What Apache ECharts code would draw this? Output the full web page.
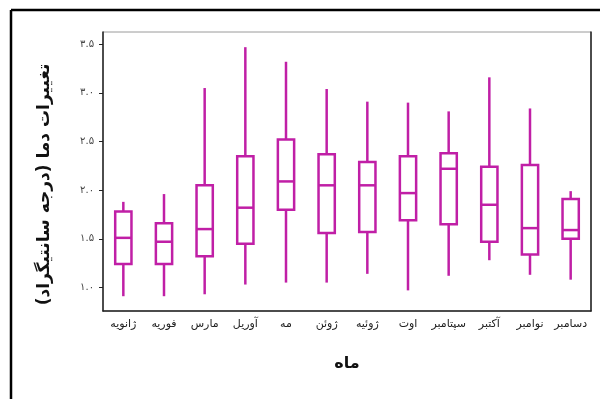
<!DOCTYPE html>
<html>
<head>
<meta charset="utf-8">
<script src="https://cdn.jsdelivr.net/npm/echarts@6/dist/echarts.min.js"></script>
<style>
  html, body { margin: 0; padding: 0; background: #fff; }
  #chart { width: 600px; height: 399px; }
</style>
</head>
<body>
<div id="chart"></div>
<script>
// Monthly temperature change distribution (box and whisker)
const months = ['ژانویه', 'فوریه', 'مارس', 'آوریل', 'مه', 'ژوئن', 'ژوئیه', 'اوت', 'سپتامبر', 'آکتبر', 'نوامبر', 'دسامبر'];
const whiskerLow  = [0.91, 0.91, 0.93, 1.03, 1.05, 1.05, 1.14, 0.97, 1.12, 1.28, 1.13, 1.08];
const boxLow      = [1.24, 1.24, 1.32, 1.45, 1.80, 1.56, 1.57, 1.69, 1.65, 1.47, 1.34, 1.50];
const medians     = [1.51, 1.47, 1.60, 1.82, 2.09, 2.05, 2.05, 1.97, 2.22, 1.85, 1.61, 1.59];
const boxHigh     = [1.78, 1.66, 2.05, 2.35, 2.52, 2.37, 2.29, 2.35, 2.38, 2.24, 2.26, 1.91];
const whiskerHigh = [1.88, 1.96, 3.05, 3.47, 3.32, 3.04, 2.91, 2.90, 2.81, 3.16, 2.84, 1.99];

const yTickValues = [1.0, 1.5, 2.0, 2.5, 3.0, 3.5];
const yTickLabels = ['۱.۰', '۱.۵', '۲.۰', '۲.۵', '۳.۰', '۳.۵'];

const COLOR = '#C01FA6';
const FONT = 'DejaVu Sans';

const seriesData = months.map((m, i) => [i, whiskerLow[i], boxLow[i], medians[i], boxHigh[i], whiskerHigh[i]]);

const chart = echarts.init(document.getElementById('chart'), null, { renderer: 'canvas' });

chart.setOption({
  backgroundColor: '#fff',
  animation: false,
  grid: {
    left: 103, right: 9, top: 32, bottom: 88,
    show: true, borderColor: '#9a9a9a', borderWidth: 1
  },
  graphic: [
    { type: 'line', shape: { x1: 11, y1: 10, x2: 600, y2: 10 }, style: { stroke: '#000', lineWidth: 2.5 } },
    { type: 'line', shape: { x1: 11, y1: 10, x2: 11, y2: 399 }, style: { stroke: '#000', lineWidth: 2.5 } }
  ],
  xAxis: {
    type: 'category',
    data: months,
    boundaryGap: true,
    name: 'ماه',
    nameLocation: 'middle',
    nameGap: 45,
    nameTextStyle: { fontFamily: FONT, fontSize: 16, fontWeight: 'bold', color: '#111' },
    axisLine: { lineStyle: { color: '#222', width: 1.5 } },
    axisTick: { alignWithLabel: true, length: 4, lineStyle: { color: '#222' } },
    axisLabel: { fontFamily: FONT, fontSize: 11, color: '#222', margin: 8, interval: 0 },
    splitLine: { show: false }
  },
  yAxis: [{
    type: 'value',
    min: 0.758,
    max: 3.626,
    name: 'تغییرات دما (درجه سانتیگراد)',
    nameLocation: 'middle',
    nameRotate: 90,
    nameGap: 50,
    nameTextStyle: { fontFamily: FONT, fontSize: 17, fontWeight: 'bold', color: '#111', padding: [0, 26, 0, 0] },
    axisLine: { show: true, lineStyle: { color: '#222', width: 1.5 } },
    axisTick: { show: true, length: 4, customValues: yTickValues, lineStyle: { color: '#222' } },
    axisLabel: {
      customValues: yTickValues,
      fontFamily: FONT, fontSize: 10, color: '#444', margin: 9,
      formatter: v => yTickLabels[yTickValues.findIndex(t => Math.abs(t - v) < 1e-6)] || ''
    },
    splitLine: { show: false }
  }, {
    type: 'value',
    position: 'right',
    min: 0.758,
    max: 3.626,
    axisLine: { show: true, lineStyle: { color: '#222', width: 1.5 } },
    axisTick: { show: false },
    axisLabel: { show: false },
    splitLine: { show: false }
  }],
  series: [{
    type: 'custom',
    yAxisIndex: 0,
    data: seriesData,
    renderItem: function (params, api) {
      const idx = api.value(0);
      const lo = api.coord([idx, api.value(1)]);
      const q1 = api.coord([idx, api.value(2)]);
      const med = api.coord([idx, api.value(3)]);
      const q3 = api.coord([idx, api.value(4)]);
      const hi = api.coord([idx, api.value(5)]);
      const halfW = api.size([1, 0])[0] * 0.2;
      const x = lo[0];
      const style = { stroke: COLOR, lineWidth: 2.5, fill: null };
      return {
        type: 'group',
        children: [
          { type: 'line', shape: { x1: x, y1: lo[1], x2: x, y2: q1[1] }, style: style },
          { type: 'line', shape: { x1: x, y1: q3[1], x2: x, y2: hi[1] }, style: style },
          { type: 'rect', shape: { x: x - halfW, y: q3[1], width: halfW * 2, height: q1[1] - q3[1] },
            style: { stroke: COLOR, lineWidth: 2.5, fill: '#fff' } },
          { type: 'line', shape: { x1: x - halfW, y1: med[1], x2: x + halfW, y2: med[1] }, style: style }
        ]
      };
    }
  }]
});
</script>
</body>
</html>
